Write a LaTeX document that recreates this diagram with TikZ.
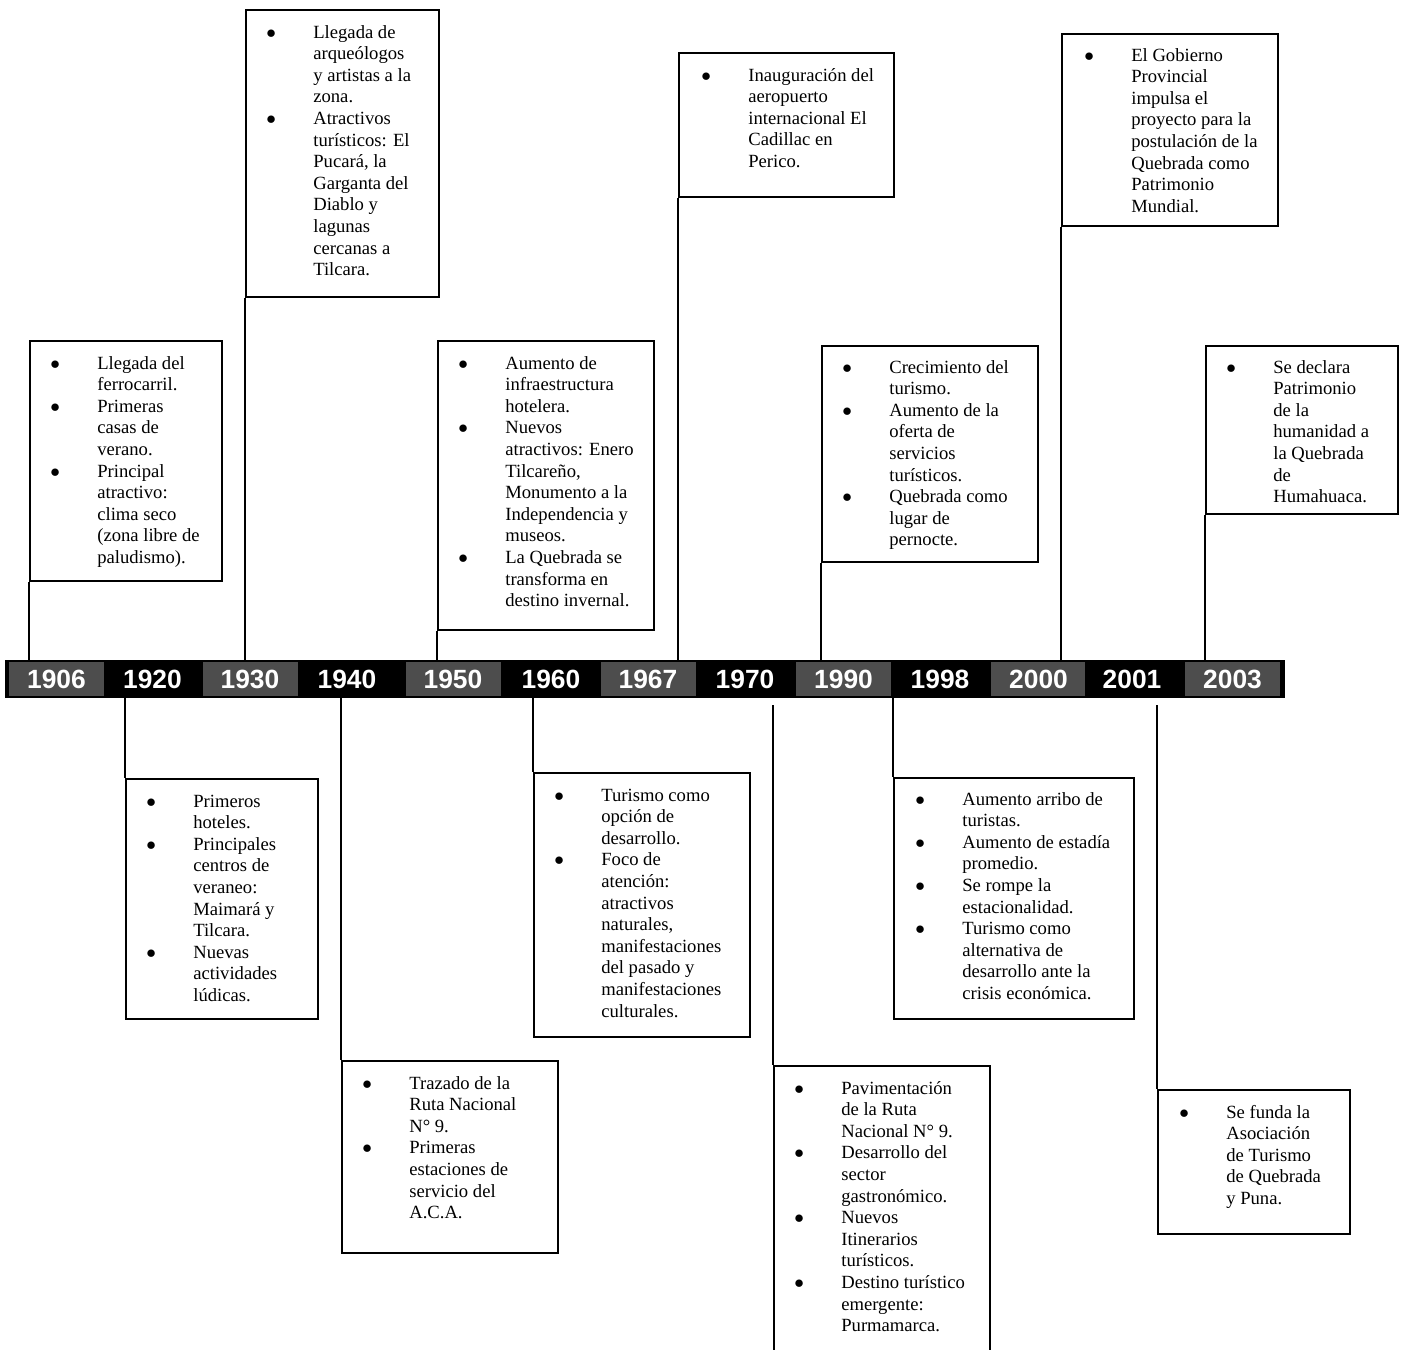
\documentclass[tikz,border=0pt]{standalone}
\usepackage{fontspec}
\setmainfont{Liberation Serif}
\newfontfamily\yearfont{Liberation Sans}
\usepackage{tikz}
\definecolor{cellgray}{RGB}{77,77,77}
\newcommand{\upx}{0.02cm}
\newcommand{\bul}{$\bullet$}
\newcommand{\evlist}[1]{\begin{tabular}[t]{@{}p{0.94cm}@{}l@{}}#1\end{tabular}}
\tikzset{
  evbox/.style={draw, line width=1.1pt, inner sep=0pt, anchor=north west},
  evtext/.style={anchor=base west, inner sep=0pt, font=\fontsize{10.6}{12.3}\selectfont},
  conn/.style={line width=1.1pt},
  yrcell/.style={text=white, inner sep=0pt, minimum width=95*\upx, minimum height=34*\upx, font=\yearfont\bfseries\fontsize{15}{15}\selectfont}
}

\begin{document}
\begin{tikzpicture}[x=0.02cm, y=-0.02cm]
    \useasboundingbox (0,0) rectangle (1403,1349);
    \node[fill=black, inner sep=0pt, minimum width=1280*\upx, minimum height=38*\upx] (bar) at (645,679) {};
    \foreach \x/\yr/\col in {56.5/1906/cellgray, 152.5/1920/black, 250/1930/cellgray, 347/1940/black, 453/1950/cellgray, 551/1960/black, 648/1967/cellgray, 745/1970/black, 843.5/1990/cellgray, 940/1998/black, 1038.5/2000/cellgray, 1132/2001/black, 1232.5/2003/cellgray} {
            \node[yrcell, fill=\col] (y\yr) at (\x,679) {\yr};
        }
    % Above the line
    \node[evbox, minimum width=192*\upx, minimum height=240*\upx] (b1906) at (29,340) {};
    \node[evtext] (t1906) at ([shift={(21,29)}]b1906.north west) {\evlist{%
        \bul & Llegada del\\ & ferrocarril.\\
        \bul & Primeras\\ & casas de\\ & verano.\\
        \bul & Principal\\ & atractivo:\\ & clima seco\\ & (zona libre de\\ & paludismo).}};
    \node[evbox, minimum width=193*\upx, minimum height=287*\upx] (b1930) at (245,9) {};
    \node[evtext] (t1930) at ([shift={(21,29)}]b1930.north west) {\evlist{%
        \bul & Llegada de\\ & arqueólogos\\ & y artistas a la\\ & zona.\\
        \bul & Atractivos\\ & turísticos: El\\ & Pucará, la\\ & Garganta del\\ & Diablo y\\ & lagunas\\ & cercanas a\\ & Tilcara.}};
    \node[evbox, minimum width=216*\upx, minimum height=289*\upx] (b1950) at (437,340) {};
    \node[evtext] (t1950) at ([shift={(21,29)}]b1950.north west) {\evlist{%
        \bul & Aumento de\\ & infraestructura\\ & hotelera.\\
        \bul & Nuevos\\ & atractivos: Enero\\ & Tilcareño,\\ & Monumento a la\\ & Independencia y\\ & museos.\\
        \bul & La Quebrada se\\ & transforma en\\ & destino invernal.}};
    \node[evbox, minimum width=215*\upx, minimum height=144*\upx] (b1967) at (678,52) {};
    \node[evtext] (t1967) at ([shift={(23,29)}]b1967.north west) {\evlist{%
        \bul & Inauguración del\\ & aeropuerto\\ & internacional El\\ & Cadillac en\\ & Perico.}};
    \node[evbox, minimum width=216*\upx, minimum height=216*\upx] (b1990) at (821,345) {};
    \node[evtext] (t1990) at ([shift={(21,28)}]b1990.north west) {\evlist{%
        \bul & Crecimiento del\\ & turismo.\\
        \bul & Aumento de la\\ & oferta de\\ & servicios\\ & turísticos.\\
        \bul & Quebrada como\\ & lugar de\\ & pernocte.}};
    \node[evbox, minimum width=216*\upx, minimum height=192*\upx] (b2000) at (1061,33) {};
    \node[evtext] (t2000) at ([shift={(23,28)}]b2000.north west) {\evlist{%
        \bul & El Gobierno\\ & Provincial\\ & impulsa el\\ & proyecto para la\\ & postulación de la\\ & Quebrada como\\ & Patrimonio\\ & Mundial.}};
    \node[evbox, minimum width=192*\upx, minimum height=168*\upx] (b2003) at (1205,345) {};
    \node[evtext] (t2003) at ([shift={(21,28)}]b2003.north west) {\evlist{%
        \bul & Se declara\\ & Patrimonio\\ & de la\\ & humanidad a\\ & la Quebrada\\ & de\\ & Humahuaca.}};
    % Below the line
    \node[evbox, minimum width=192*\upx, minimum height=240*\upx] (b1920) at (125,778) {};
    \node[evtext] (t1920) at ([shift={(21,29)}]b1920.north west) {\evlist{%
        \bul & Primeros\\ & hoteles.\\
        \bul & Principales\\ & centros de\\ & veraneo:\\ & Maimará y\\ & Tilcara.\\
        \bul & Nuevas\\ & actividades\\ & lúdicas.}};
    \node[evbox, minimum width=216*\upx, minimum height=192*\upx] (b1940) at (341,1060) {};
    \node[evtext] (t1940) at ([shift={(21,29)}]b1940.north west) {\evlist{%
        \bul & Trazado de la\\ & Ruta Nacional\\ & N° 9.\\
        \bul & Primeras\\ & estaciones de\\ & servicio del\\ & A.C.A.}};
    \node[evbox, minimum width=216*\upx, minimum height=264*\upx] (b1960) at (533,772) {};
    \node[evtext] (t1960) at ([shift={(21,29)}]b1960.north west) {\evlist{%
        \bul & Turismo como\\ & opción de\\ & desarrollo.\\
        \bul & Foco de\\ & atención:\\ & atractivos\\ & naturales,\\ & manifestaciones\\ & del pasado y\\ & manifestaciones\\ & culturales.}};
    \node[evbox, minimum width=216*\upx, minimum height=300*\upx] (b1970) at (773,1065) {};
    \node[evtext] (t1970) at ([shift={(21,29)}]b1970.north west) {\evlist{%
        \bul & Pavimentación\\ & de la Ruta\\ & Nacional N° 9.\\
        \bul & Desarrollo del\\ & sector\\ & gastronómico.\\
        \bul & Nuevos\\ & Itinerarios\\ & turísticos.\\
        \bul & Destino turístico\\ & emergente:\\ & Purmamarca.}};
    \node[evbox, minimum width=240*\upx, minimum height=241*\upx] (b1998) at (893,777) {};
    \node[evtext] (t1998) at ([shift={(22,28)}]b1998.north west) {\evlist{%
        \bul & Aumento arribo de\\ & turistas.\\
        \bul & Aumento de estadía\\ & promedio.\\
        \bul & Se rompe la\\ & estacionalidad.\\
        \bul & Turismo como\\ & alternativa de\\ & desarrollo ante la\\ & crisis económica.}};
    \node[evbox, minimum width=192*\upx, minimum height=144*\upx] (b2001) at (1157,1089) {};
    \node[evtext] (t2001) at ([shift={(22,29)}]b2001.north west) {\evlist{%
        \bul & Se funda la\\ & Asociación\\ & de Turismo\\ & de Quebrada\\ & y Puna.}};
    % Connectors
    \foreach \yr in {1906,1930,1950,1967,1990,2000,2003} {
            \draw[conn] (b\yr.south west) -- (b\yr.south west |- bar.north);
        }
    \foreach \yr in {1920,1940,1960,1998} {
            \draw[conn] (bar.south -| b\yr.north west) -- (b\yr.north west);
        }
    \foreach \yr in {1970,2001} {
            \draw[conn, shorten <=4pt] (bar.south -| b\yr.north west) -- (b\yr.north west);
        }
\end{tikzpicture}
\end{document}
